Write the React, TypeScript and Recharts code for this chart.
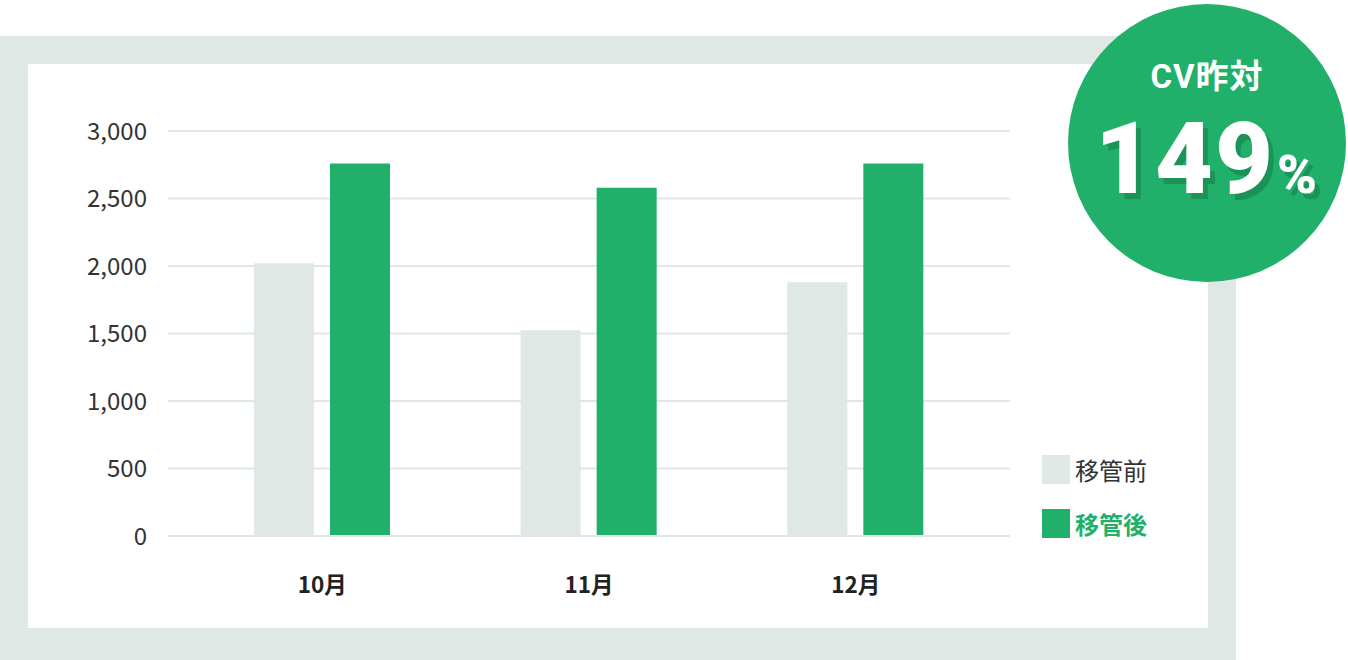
import React from 'react';
import { BarChart, Bar, XAxis, YAxis, CartesianGrid } from 'recharts';

const months = ['10月', '11月', '12月'];
const beforeValues = [2020, 1525, 1880];
const afterValues = [2760, 2580, 2760];
const yTicks = [0, 500, 1000, 1500, 2000, 2500, 3000];
const seriesLabels = ['移管前', '移管後'];

const GRAY = '#dfe8e5';
const GREEN = '#21b06a';
const FONT = '"Noto Sans CJK JP", "Noto Sans", sans-serif';
const BADGE_FONT = 'Roboto, "Noto Sans CJK JP", sans-serif';

const data = months.map((m, i) => ({ month: m, before: beforeValues[i], after: afterValues[i] }));

function LegendBox() {
  const items = [
    { label: seriesLabels[0], color: GRAY, textColor: '#333', weight: 400 },
    { label: seriesLabels[1], color: GREEN, textColor: GREEN, weight: 700 },
  ];
  return (
    <div style={{ position: 'absolute', left: 1042, top: 455, fontFamily: FONT }}>
      {items.map((it) => (
        <div key={it.label} style={{ display: 'flex', alignItems: 'center', height: 29, marginBottom: 25 }}>
          <div style={{ width: 28, height: 29, background: it.color, marginRight: 5 }} />
          <span style={{ fontSize: 24, color: it.textColor, fontWeight: it.weight, lineHeight: '29px' }}>{it.label}</span>
        </div>
      ))}
    </div>
  );
}

export default function App() {
  return (
    <div style={{ position: 'absolute', left: 0, top: 0, width: 1348, height: 660, background: '#fff', overflow: 'hidden', fontFamily: FONT }}>
      {/* frame */}
      <div style={{ position: 'absolute', left: 0, top: 36, width: 1236, height: 624, background: GRAY }} />
      <div style={{ position: 'absolute', left: 28, top: 64, width: 1180, height: 564, background: '#fff' }} />

      <div style={{ position: 'absolute', left: 0, top: 0 }}>
        <BarChart
          width={1348}
          height={660}
          data={data}
          margin={{ top: 131, right: 338, bottom: 94, left: 68 }}
          barSize={60}
          barGap={16}
        >
          <CartesianGrid horizontal vertical={false} stroke={GRAY} strokeWidth={2} />
          <XAxis
            dataKey="month"
            height={30}
            padding={{ left: 21, right: 21 }}
            axisLine={{ stroke: GRAY, strokeWidth: 2 }}
            tickLine={false}
            tickSize={0}
            tickMargin={41}
            tick={{ fill: '#222', fontSize: 22.5, fontWeight: 700, fontFamily: FONT }}
          />
          <YAxis
            width={100}
            domain={[0, 3000]}
            ticks={yTicks}
            axisLine={false}
            tickLine={false}
            tickSize={0}
            tickMargin={21}
            tickFormatter={(v: number) => v.toLocaleString('en-US')}
            tick={{ fill: '#333', fontSize: 24, fontFamily: FONT }}
          />
          <Bar dataKey="before" name={seriesLabels[0]} fill={GRAY} isAnimationActive={false} />
          <Bar dataKey="after" name={seriesLabels[1]} fill={GREEN} isAnimationActive={false} />
        </BarChart>
      </div>

      <LegendBox />

      {/* badge */}
      <div style={{ position: 'absolute', left: 1068, top: 4, width: 278, height: 278, borderRadius: '50%', background: GREEN }} />
      <div
        style={{
          position: 'absolute',
          left: 1068,
          top: 58,
          width: 278,
          textAlign: 'center',
          color: '#fff',
          fontFamily: BADGE_FONT,
          fontSize: 33,
          fontWeight: 700,
          lineHeight: '38px',
          height: 38,
          letterSpacing: 1,
        }}
      >
        CV昨対
      </div>
      <div
        style={{
          position: 'absolute',
          left: 1068,
          top: 100,
          width: 278,
          textAlign: 'center',
          color: '#fff',
          fontFamily: BADGE_FONT,
          fontWeight: 900,
          lineHeight: '117px',
          height: 117,
          textShadow: '5px 6px 0 #1a9258',
          letterSpacing: 2,
        }}
      >
        <span style={{ fontSize: 100 }}>149</span>
        <span style={{ fontSize: 54, marginLeft: 2 }}>%</span>
      </div>
    </div>
  );
}
